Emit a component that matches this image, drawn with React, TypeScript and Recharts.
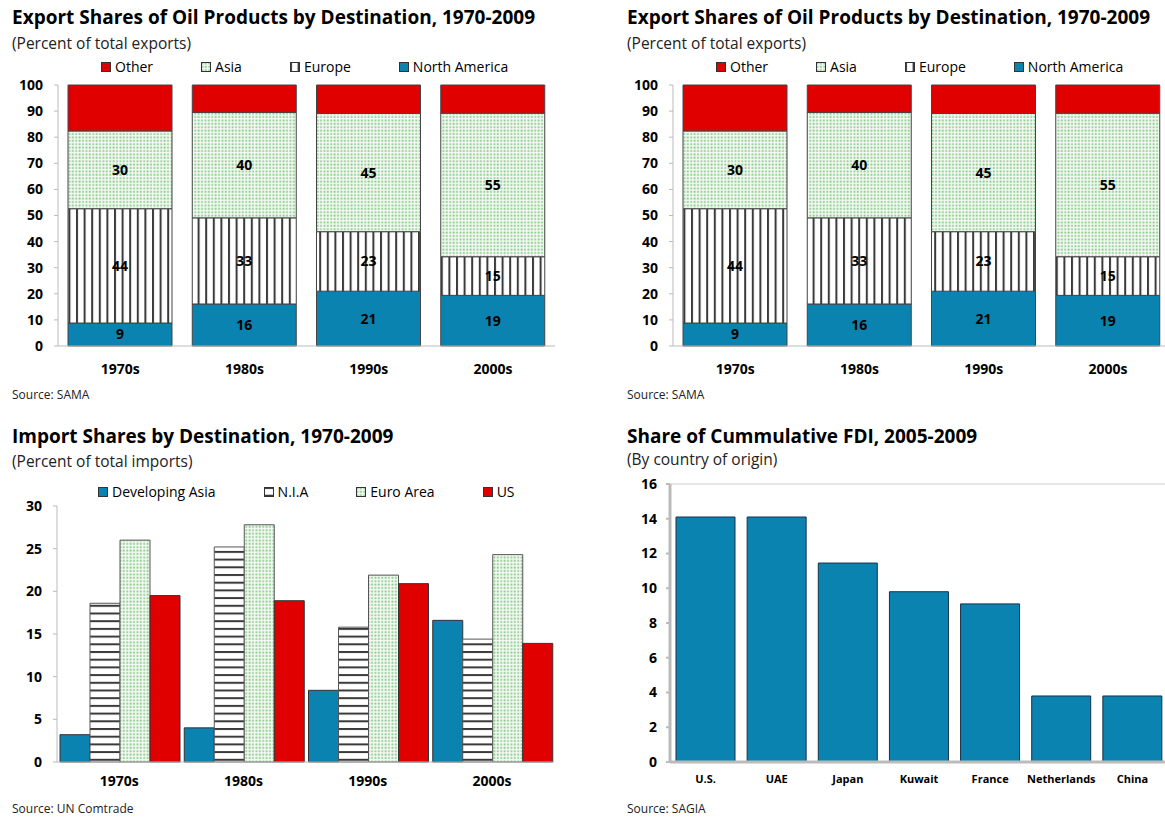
import React from 'react';
import { BarChart, Bar, XAxis, YAxis, LabelList, ReferenceLine } from 'recharts';

const decades = ['1970s', '1980s', '1990s', '2000s'];

// export shares (stacked, percent)
const exportNorthAmerica = [8.8, 16.1, 21.0, 19.4];
const exportEurope = [43.8, 33.0, 22.8, 14.8];
const exportAsia = [29.8, 40.4, 45.3, 55.0];
const exportOther = [17.6, 10.5, 10.9, 10.8];
const exportTicks = [0, 10, 20, 30, 40, 50, 60, 70, 80, 90, 100];

// import shares (percent)
const importDevAsia = [3.2, 4.0, 8.4, 16.6];
const importNIA = [18.6, 25.2, 15.8, 14.4];
const importEuro = [26.0, 27.8, 21.9, 24.3];
const importUS = [19.5, 18.9, 20.9, 13.9];
const importTicks = [0, 5, 10, 15, 20, 25, 30];

// FDI share by country of origin
const fdiCountries = ['U.S.', 'UAE', 'Japan', 'Kuwait', 'France', 'Netherlands', 'China'];
const fdiShare = [14.1, 14.1, 11.45, 9.8, 9.1, 3.8, 3.8];
const fdiTicks = [0, 2, 4, 6, 8, 10, 12, 14, 16];

const exportData = decades.map((d, i) => ({
  decade: d,
  na: exportNorthAmerica[i],
  europe: exportEurope[i],
  asia: exportAsia[i],
  other: exportOther[i],
}));

const importData = decades.map((d, i) => ({
  decade: d,
  devAsia: importDevAsia[i],
  nia: importNIA[i],
  euro: importEuro[i],
  us: importUS[i],
}));

const fdiData = fdiCountries.map((c, i) => ({ country: c, share: fdiShare[i] }));

const RED = '#e00000';
const BLUE = '#0b83b0';
const FONT = "'Segoe UI', 'Open Sans', sans-serif";

const tickStyle = { fill: '#000', fontSize: 14, fontWeight: 700, fontFamily: FONT };
const labelStyle = { fill: '#000', fontSize: 14, fontWeight: 700, fontFamily: FONT };

const Defs = () => (
  <svg width={0} height={0} style={{ position: 'absolute' }}>
    <defs>
      <pattern id="vstripe" width={7.6} height={10} patternUnits="userSpaceOnUse">
        <rect width={7.6} height={10} fill="#fff" />
        <rect x={0} width={2} height={10} fill="#3a3a3a" />
      </pattern>
      <pattern id="hstripe" width={10} height={7.7} patternUnits="userSpaceOnUse">
        <rect width={10} height={7.7} fill="#fff" />
        <rect y={0} width={10} height={2} fill="#3a3a3a" />
      </pattern>
      <pattern id="dots" width={3.4} height={3.4} patternUnits="userSpaceOnUse">
        <rect width={3.4} height={3.4} fill="#f4faf4" />
        <rect x={0.5} y={0.5} width={1.8} height={1.8} fill="#88c688" />
      </pattern>
    </defs>
  </svg>
);

const Swatch = ({ fill }: { fill: string }) => (
  <svg width={10} height={10} style={{ marginRight: 4, display: 'block' }}>
    <rect x={0.5} y={0.5} width={9} height={9} fill={fill} stroke="#333" strokeWidth={1} />
  </svg>
);

const LegendRow = ({ items, left, top }: { items: { label: string; fill: string }[]; left: number; top: number }) => (
  <div style={{ position: 'absolute', left, top, display: 'flex', gap: 48, fontSize: 14, fontFamily: FONT, color: '#000', lineHeight: '18px' }}>
    {items.map((it) => (
      <div key={it.label} style={{ display: 'flex', alignItems: 'center' }}>
        <Swatch fill={it.fill} />
        <span>{it.label}</span>
      </div>
    ))}
  </div>
);

const Text = ({ left, top, size, bold, lh, children }: any) => (
  <div style={{ position: 'absolute', left, top, fontSize: size, fontWeight: bold ? 700 : 400, fontFamily: FONT, color: bold ? '#000' : '#222', lineHeight: `${lh ?? size + 6}px`, whiteSpace: 'nowrap' }}>
    {children}
  </div>
);

const exportLegend = [
  { label: 'Other', fill: RED },
  { label: 'Asia', fill: 'url(#dots)' },
  { label: 'Europe', fill: 'url(#vstripe)' },
  { label: 'North America', fill: BLUE },
];

const importLegend = [
  { label: 'Developing Asia', fill: BLUE },
  { label: 'N.I.A', fill: 'url(#hstripe)' },
  { label: 'Euro Area', fill: 'url(#dots)' },
  { label: 'US', fill: RED },
];

const roundLabel = (v: any) => Math.round(Number(v));

const ExportPanel = ({ x, width }: { x: number; width: number }) => (
  <>
    <div style={{ position: 'absolute', left: x, top: 0 }}>
      <BarChart width={width} height={380} data={exportData} margin={{ top: 85, right: 0, left: 0, bottom: 4 }} barCategoryGap={10}>
        <XAxis dataKey="decade" height={30} tickLine={false} tickSize={6} tickMargin={12} axisLine={{ stroke: '#bbb' }} tick={tickStyle} />
        <YAxis domain={[0, 100]} ticks={exportTicks} width={58} interval={0} tickSize={4} tickMargin={11} axisLine={{ stroke: '#bbb' }} tickLine={{ stroke: '#bbb' }} tick={tickStyle} />
        <Bar dataKey="na" stackId="a" fill={BLUE} stroke="#444" strokeWidth={1} isAnimationActive={false}>
          <LabelList dataKey="na" position="center" formatter={roundLabel} style={labelStyle} />
        </Bar>
        <Bar dataKey="europe" stackId="a" fill="url(#vstripe)" stroke="#444" strokeWidth={1} isAnimationActive={false}>
          <LabelList dataKey="europe" position="center" formatter={roundLabel} style={labelStyle} />
        </Bar>
        <Bar dataKey="asia" stackId="a" fill="url(#dots)" stroke="#444" strokeWidth={1} isAnimationActive={false}>
          <LabelList dataKey="asia" position="center" formatter={roundLabel} style={labelStyle} />
        </Bar>
        <Bar dataKey="other" stackId="a" fill={RED} stroke="#444" strokeWidth={1} isAnimationActive={false} />
      </BarChart>
    </div>
    <Text left={x + 12} top={5} size={19} bold>Export Shares of Oil Products by Destination, 1970-2009</Text>
    <Text left={x + 12} top={33} size={15.5}>(Percent of total exports)</Text>
    <LegendRow items={exportLegend} left={x + 101} top={58} />
    <Text left={x + 12} top={387} size={12} lh={16}>Source: SAMA</Text>
  </>
);

export default function App() {
  return (
    <div style={{ position: 'absolute', left: 0, top: 0, width: 1165, height: 817, overflow: 'hidden', background: '#fff' }}>
      <Defs />
      <ExportPanel x={0} width={555} />
      <ExportPanel x={615} width={555} />

      {/* imports */}
      <div style={{ position: 'absolute', left: 0, top: 420 }}>
        <BarChart width={560} height={376} data={importData} margin={{ top: 86, right: 6, left: 0, bottom: 4 }} barCategoryGap={3} barGap={0}>
          <XAxis dataKey="decade" height={30} tickLine={false} tickSize={6} tickMargin={8} axisLine={{ stroke: '#bbb' }} tick={tickStyle} />
          <YAxis domain={[0, 30]} ticks={importTicks} width={57} interval={0} tickSize={4} tickMargin={11} axisLine={{ stroke: '#bbb' }} tickLine={{ stroke: '#bbb' }} tick={tickStyle} />
          <Bar dataKey="devAsia" fill={BLUE} stroke="#333" strokeWidth={1} isAnimationActive={false} />
          <Bar dataKey="nia" fill="url(#hstripe)" stroke="#555" strokeWidth={1} isAnimationActive={false} />
          <Bar dataKey="euro" fill="url(#dots)" stroke="#555" strokeWidth={1} isAnimationActive={false} />
          <Bar dataKey="us" fill={RED} stroke="#333" strokeWidth={1} isAnimationActive={false} />
        </BarChart>
      </div>
      <Text left={12} top={424} size={19} bold>Import Shares by Destination, 1970-2009</Text>
      <Text left={12} top={451} size={15.5}>(Percent of total imports)</Text>
      <LegendRow items={importLegend} left={98} top={483} />
      <Text left={12} top={801} size={12} lh={15}>Source: UN Comtrade</Text>

      {/* FDI */}
      <div style={{ position: 'absolute', left: 612, top: 420 }}>
        <BarChart width={556} height={376} data={fdiData} margin={{ top: 64, right: 0, left: 0, bottom: 4 }} barCategoryGap={6}>
          <ReferenceLine y={16} stroke="#ccc" strokeWidth={1} />
          <XAxis dataKey="country" height={30} interval={0} tickLine={false} tickSize={6} tickMargin={7} axisLine={{ stroke: '#bbb', strokeWidth: 3 }} tick={{ ...tickStyle, fontSize: 11 }} />
          <YAxis domain={[0, 16]} ticks={fdiTicks} width={58} interval={0} tickSize={4} tickMargin={9} axisLine={{ stroke: '#bbb', strokeWidth: 3 }} tickLine={{ stroke: '#bbb', strokeWidth: 2 }} tick={tickStyle} />
          <Bar dataKey="share" fill={BLUE} stroke="#17324a" strokeWidth={1} isAnimationActive={false} />
        </BarChart>
      </div>
      <Text left={627} top={424} size={19} bold>Share of Cummulative FDI, 2005-2009</Text>
      <Text left={627} top={449} size={15.5}>(By country of origin)</Text>
      <Text left={627} top={801} size={12} lh={15}>Source: SAGIA</Text>
    </div>
  );
}
